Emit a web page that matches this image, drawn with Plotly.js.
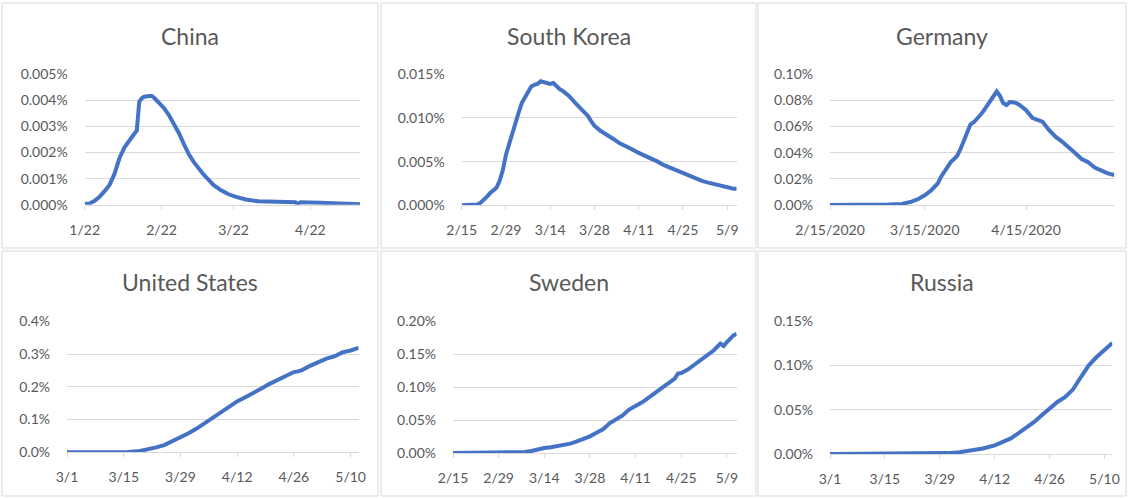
<!DOCTYPE html>
<html>
<head>
<meta charset="utf-8">
<script src="https://cdn.plot.ly/plotly-3.0.1.min.js"></script>
<style>
  html, body { margin: 0; padding: 0; background: #fff; }
  #chart { width: 1128px; height: 498px; }
</style>
</head>
<body>
<div id="chart"></div>
<script>
// daily deaths as % of population (7-day avg), values in percent

const chinaDates = ['2020-01-22','2020-01-24','2020-01-26','2020-01-28','2020-01-30','2020-02-01','2020-02-03','2020-02-05','2020-02-07','2020-02-09','2020-02-11','2020-02-12','2020-02-13','2020-02-14','2020-02-15','2020-02-17','2020-02-18','2020-02-19','2020-02-21','2020-02-23','2020-02-25','2020-02-27','2020-02-29','2020-03-02','2020-03-04','2020-03-06','2020-03-08','2020-03-10','2020-03-12','2020-03-14','2020-03-17','2020-03-20','2020-03-23','2020-03-27','2020-04-01','2020-04-07','2020-04-16','2020-04-17','2020-04-18','2020-04-26','2020-05-04','2020-05-12'];
const chinaValues = [0.00003,0.00005,0.00015,0.00030,0.00052,0.00076,0.00118,0.00178,0.00219,0.00248,0.00272,0.00284,0.00395,0.00408,0.00414,0.00417,0.00417,0.00410,0.00392,0.00370,0.00343,0.00310,0.00274,0.00232,0.00193,0.00163,0.00138,0.00115,0.00095,0.00075,0.00055,0.00040,0.00030,0.00020,0.00013,0.00010,0.00009,0.00002,0.00009,0.00007,0.00004,0.00002];
const chinaTicks = ['2020-01-22','2020-02-22','2020-03-22','2020-04-22'];

const koreaDates = ['2020-02-15','2020-02-19','2020-02-20','2020-02-21','2020-02-22','2020-02-23','2020-02-24','2020-02-25','2020-02-26','2020-02-27','2020-02-28','2020-02-29','2020-03-01','2020-03-02','2020-03-03','2020-03-04','2020-03-05','2020-03-06','2020-03-07','2020-03-08','2020-03-09','2020-03-10','2020-03-11','2020-03-12','2020-03-13','2020-03-14','2020-03-15','2020-03-16','2020-03-17','2020-03-18','2020-03-20','2020-03-22','2020-03-24','2020-03-26','2020-03-27','2020-03-28','2020-03-30','2020-04-01','2020-04-03','2020-04-05','2020-04-07','2020-04-09','2020-04-11','2020-04-13','2020-04-15','2020-04-17','2020-04-19','2020-04-21','2020-04-23','2020-04-25','2020-04-27','2020-04-29','2020-05-01','2020-05-03','2020-05-05','2020-05-07','2020-05-09','2020-05-11','2020-05-12'];
const koreaValues = [0,0,0.0001,0.0003,0.0006,0.0010,0.0014,0.0017,0.0020,0.0028,0.0040,0.0058,0.0070,0.0082,0.0097,0.0106,0.0117,0.0123,0.0131,0.0136,0.0138,0.0139,0.0142,0.0141,0.0139,0.0139,0.0140,0.0136,0.0133,0.0131,0.0125,0.0117,0.0109,0.0102,0.0096,0.0091,0.0085,0.0081,0.0076,0.0071,0.0068,0.0064,0.0060,0.0057,0.0053,0.0050,0.0046,0.0043,0.0040,0.0036,0.0033,0.0030,0.0028,0.0026,0.0024,0.0022,0.0020,0.0019,0.0019];
const koreaTicks = ['2020-02-15','2020-02-29','2020-03-14','2020-03-28','2020-04-11','2020-04-25','2020-05-09'];

const germanyDates = ['2020-02-15','2020-02-29','2020-03-04','2020-03-08','2020-03-11','2020-03-13','2020-03-15','2020-03-17','2020-03-19','2020-03-20','2020-03-21','2020-03-22','2020-03-23','2020-03-24','2020-03-25','2020-03-26','2020-03-27','2020-03-28','2020-03-29','2020-03-30','2020-03-31','2020-04-01','2020-04-02','2020-04-03','2020-04-04','2020-04-05','2020-04-06','2020-04-07','2020-04-08','2020-04-09','2020-04-10','2020-04-11','2020-04-12','2020-04-13','2020-04-14','2020-04-15','2020-04-17','2020-04-19','2020-04-20','2020-04-22','2020-04-24','2020-04-26','2020-04-28','2020-04-30','2020-05-02','2020-05-04','2020-05-06','2020-05-08','2020-05-10','2020-05-12'];
const germanyValues = [0,0,0.0003,0.0008,0.0026,0.0046,0.0074,0.0113,0.0166,0.0217,0.0255,0.0280,0.0330,0.0352,0.0380,0.0432,0.0495,0.0560,0.0617,0.0633,0.0656,0.0688,0.0720,0.0760,0.0802,0.0828,0.0868,0.0835,0.0780,0.0765,0.0787,0.0786,0.0780,0.0765,0.0745,0.0725,0.0665,0.0643,0.0638,0.0574,0.0523,0.0485,0.0446,0.0398,0.0352,0.0327,0.0286,0.0260,0.0242,0.0230];
const germanyTicks = ['2020-02-15','2020-03-15','2020-04-15'];

const usDates = ['2020-03-01','2020-03-13','2020-03-16','2020-03-19','2020-03-21','2020-03-23','2020-03-25','2020-03-27','2020-03-29','2020-03-31','2020-04-02','2020-04-04','2020-04-06','2020-04-08','2020-04-10','2020-04-12','2020-04-14','2020-04-16','2020-04-18','2020-04-20','2020-04-22','2020-04-24','2020-04-26','2020-04-27','2020-04-28','2020-04-30','2020-05-02','2020-05-04','2020-05-06','2020-05-08','2020-05-10','2020-05-12'];
const usValues = [0,0.0003,0.0010,0.0040,0.0085,0.0150,0.0220,0.0330,0.0445,0.0580,0.0725,0.0890,0.1050,0.1230,0.1400,0.1555,0.1680,0.1805,0.1950,0.2090,0.2210,0.2320,0.2450,0.2470,0.2510,0.2640,0.2765,0.2860,0.2930,0.3050,0.3110,0.3190];
const usTicks = ['2020-03-01','2020-03-15','2020-03-29','2020-04-12','2020-04-26','2020-05-10'];

const swedenDates = ['2020-02-15','2020-02-29','2020-03-04','2020-03-08','2020-03-10','2020-03-12','2020-03-14','2020-03-16','2020-03-18','2020-03-20','2020-03-22','2020-03-24','2020-03-26','2020-03-28','2020-03-30','2020-04-01','2020-04-03','2020-04-05','2020-04-07','2020-04-09','2020-04-11','2020-04-13','2020-04-15','2020-04-17','2020-04-19','2020-04-21','2020-04-23','2020-04-24','2020-04-25','2020-04-27','2020-04-29','2020-05-01','2020-05-03','2020-05-05','2020-05-07','2020-05-08','2020-05-09','2020-05-11','2020-05-12'];
const swedenValues = [0,0,0.0005,0.0015,0.0030,0.0055,0.0076,0.0088,0.0101,0.0120,0.0142,0.0175,0.0208,0.0253,0.0309,0.0360,0.0450,0.0510,0.0570,0.0660,0.0710,0.0770,0.0840,0.0910,0.0990,0.1050,0.1130,0.1205,0.1215,0.1266,0.1340,0.1430,0.1490,0.1560,0.1660,0.1625,0.1686,0.1787,0.1810];
const swedenTicks = ['2020-02-15','2020-02-29','2020-03-14','2020-03-28','2020-04-11','2020-04-25','2020-05-09'];

const russiaDates = ['2020-03-01','2020-03-21','2020-03-27','2020-03-31','2020-04-03','2020-04-06','2020-04-09','2020-04-12','2020-04-14','2020-04-16','2020-04-18','2020-04-20','2020-04-22','2020-04-24','2020-04-26','2020-04-28','2020-04-30','2020-05-02','2020-05-04','2020-05-06','2020-05-08','2020-05-10','2020-05-12'];
const russiaValues = [0,0,0.0004,0.0010,0.0020,0.0036,0.0062,0.0098,0.0130,0.0173,0.0232,0.0294,0.0360,0.0437,0.0512,0.0588,0.0644,0.0731,0.0870,0.1002,0.1096,0.1172,0.1255];
const russiaTicks = ['2020-03-01','2020-03-15','2020-03-29','2020-04-12','2020-04-26','2020-05-10'];

const W = 1128, H = 498;
const FONT = 'Lato, "Noto Sans", sans-serif';
const GREY = '#d9d9d9';
const TEXT = '#595959';
const BLUE = '#4472c4';

// plot box [left, top, right, bottom] and frame in pixels
const panels = [
  { title: 'China', x: chinaDates, y: chinaValues, ticks: chinaTicks, xfmt: '%-m/%-d', ymax: 0.005, dtick: 0.001, yfmt: '.3f',
    box: [84.7, 74.3, 360, 204.7], frame: [2, 3, 378, 248], titleY: 36 },
  { title: 'South Korea', x: koreaDates, y: koreaValues, ticks: koreaTicks, xfmt: '%-m/%-d', ymax: 0.015, dtick: 0.005, yfmt: '.3f',
    box: [461.7, 74.3, 736.7, 205.3], frame: [381, 3, 756, 248], titleY: 36 },
  { title: 'Germany', x: germanyDates, y: germanyValues, ticks: germanyTicks, xfmt: '%-m/%-d/%Y', ymax: 0.10, dtick: 0.02, yfmt: '.2f',
    box: [830, 74.3, 1114.3, 205], frame: [758, 3, 1126, 248], titleY: 36 },
  { title: 'United States', x: usDates, y: usValues, ticks: usTicks, xfmt: '%-m/%-d', ymax: 0.4, dtick: 0.1, yfmt: '.1f',
    box: [67, 321.3, 358.7, 452.3], frame: [2, 251, 378, 496], titleY: 282 },
  { title: 'Sweden', x: swedenDates, y: swedenValues, ticks: swedenTicks, xfmt: '%-m/%-d', ymax: 0.20, dtick: 0.05, yfmt: '.2f',
    box: [453, 321.3, 736.7, 453], frame: [381, 251, 756, 496], titleY: 282 },
  { title: 'Russia', x: russiaDates, y: russiaValues, ticks: russiaTicks, xfmt: '%-m/%-d', ymax: 0.15, dtick: 0.05, yfmt: '.2f',
    box: [830, 321.3, 1112.3, 454], frame: [758, 251, 1126, 496], titleY: 282 }
];

const traces = [];
const layout = {
  width: W, height: H,
  margin: { l: 0, r: 0, t: 0, b: 0 },
  paper_bgcolor: '#fff', plot_bgcolor: '#fff',
  showlegend: false,
  font: { family: FONT, color: TEXT, size: 14 },
  shapes: [], annotations: []
};

panels.forEach((p, i) => {
  const n = i === 0 ? '' : String(i + 1);
  traces.push({
    x: p.x, y: p.y, xaxis: 'x' + n, yaxis: 'y' + n,
    type: 'scatter', mode: 'lines',
    line: { color: BLUE, width: 4 },
    hoverinfo: 'x+y'
  });
  const [l, t, r, b] = p.box;
  layout['xaxis' + n] = {
    type: 'date', anchor: 'y' + n,
    domain: [l / W, r / W],
    range: [p.x[0], p.x[p.x.length - 1]],
    tickvals: p.ticks, tickformat: p.xfmt,
    showgrid: false, zeroline: false,
    showline: true, linecolor: GREY, linewidth: 1,
    ticks: 'outside', ticklen: 4, tickcolor: GREY,
    ticklabelstandoff: 8,
    tickfont: { family: FONT, color: TEXT, size: 14 },
    fixedrange: true
  };
  layout['yaxis' + n] = {
    anchor: 'x' + n,
    domain: [1 - b / H, 1 - t / H],
    range: [0, p.ymax], dtick: p.dtick, tick0: 0,
    tickformat: p.yfmt, ticksuffix: '%',
    showgrid: true, gridcolor: GREY, gridwidth: 1,
    zeroline: false, showline: false, ticks: '',
    ticklabelstandoff: 16,
    tickfont: { family: FONT, color: TEXT, size: 14 },
    fixedrange: true
  };
  const [fl, ft, fr, fb] = p.frame;
  layout.shapes.push({
    type: 'rect', xref: 'paper', yref: 'paper',
    x0: fl / W, x1: fr / W, y0: 1 - fb / H, y1: 1 - ft / H,
    line: { color: GREY, width: 1 }, layer: 'below'
  });
  layout.annotations.push({
    text: p.title, xref: 'paper', yref: 'paper',
    x: (fl + fr) / 2 / W, y: 1 - p.titleY / H,
    xanchor: 'center', yanchor: 'middle', showarrow: false,
    font: { family: FONT, color: TEXT, size: 23 }
  });
});

Plotly.newPlot('chart', traces, layout, { displayModeBar: false, staticPlot: true });
</script>
</body>
</html>
